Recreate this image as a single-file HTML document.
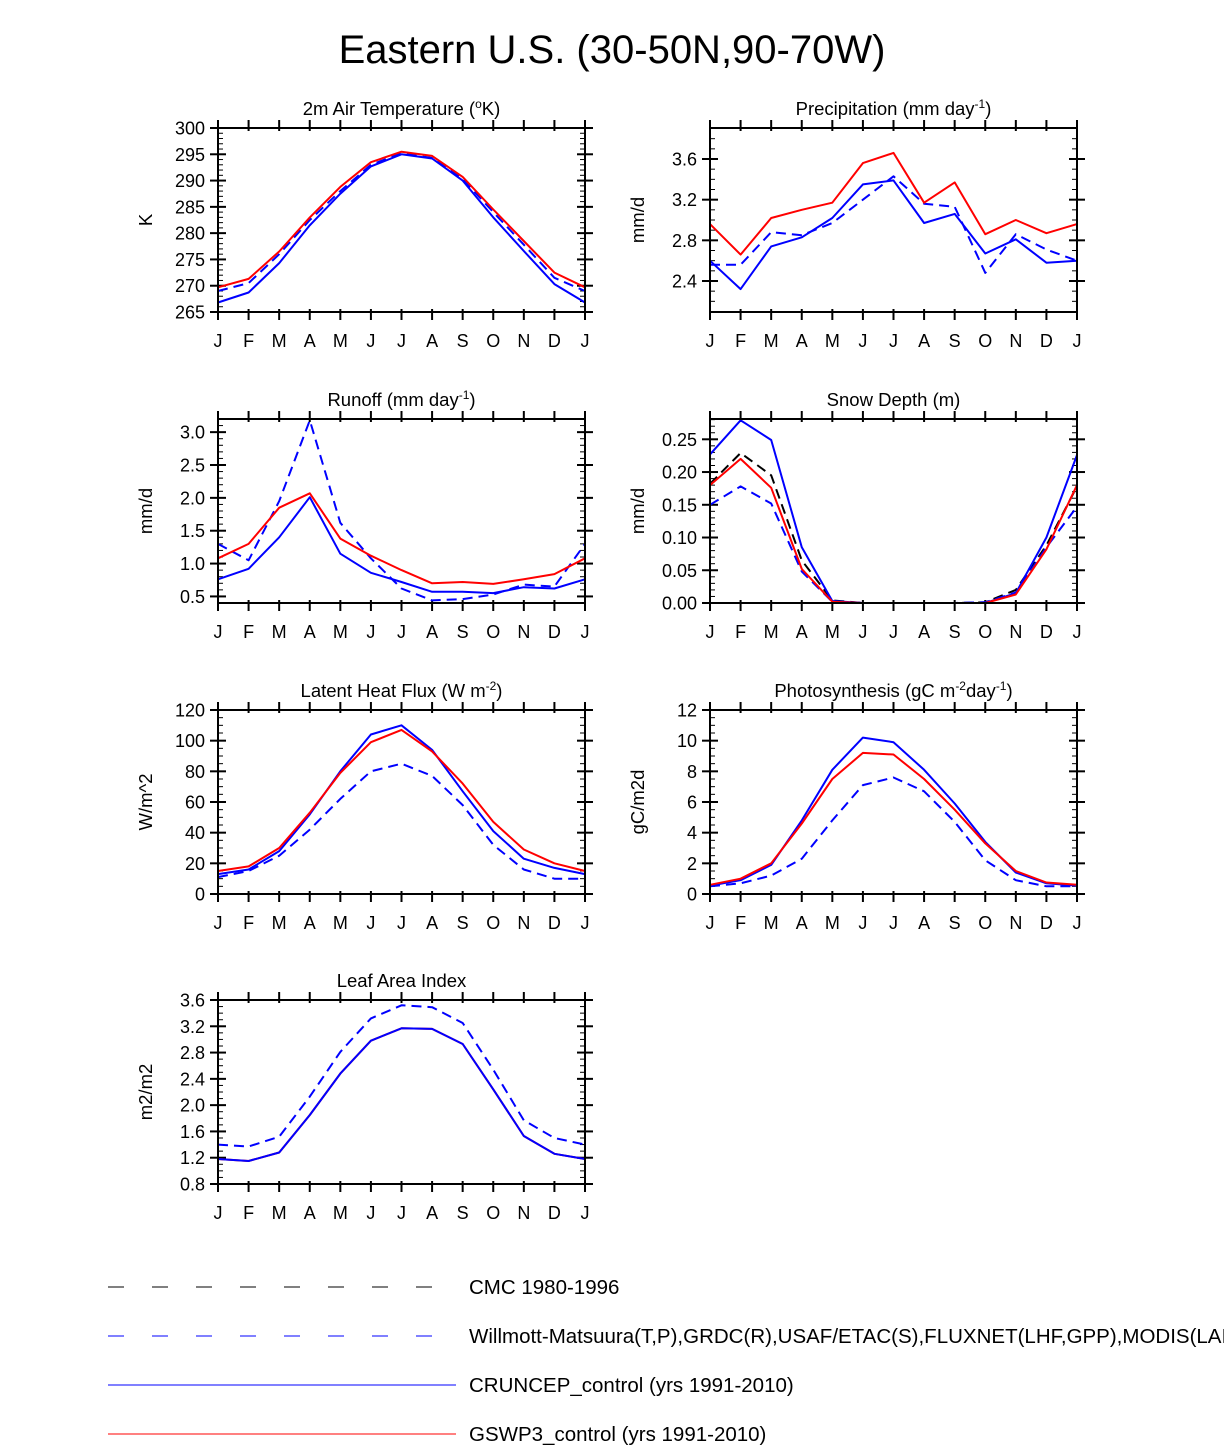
<!DOCTYPE html>
<html><head><meta charset="utf-8"><style>
html,body{margin:0;padding:0;background:#fff;}
svg{display:block;font-family:"Liberation Sans",Arial,sans-serif;}
</style></head><body>
<svg id="fig" width="1224" height="1447" viewBox="0 0 1224 1447">
<text x="612" y="63" font-size="40" text-anchor="middle">Eastern U.S. (30-50N,90-70W)</text>
<g id="panels"></g>
<g>
<line x1="108" y1="1287" x2="438" y2="1287" stroke="#000" stroke-width="1" stroke-dasharray="16,28"/>
<text x="469" y="1294" font-size="20.5">CMC 1980-1996</text>
<line x1="108" y1="1336" x2="438" y2="1336" stroke="#00f" stroke-width="1" stroke-dasharray="16,28"/>
<text x="469" y="1343" font-size="20.5">Willmott-Matsuura(T,P),GRDC(R),USAF/ETAC(S),FLUXNET(LHF,GPP),MODIS(LAI)</text>
<line x1="108" y1="1385" x2="456" y2="1385" stroke="#00f" stroke-width="1"/>
<text x="469" y="1392" font-size="20.5">CRUNCEP_control (yrs 1991-2010)</text>
<line x1="108" y1="1434" x2="456" y2="1434" stroke="#f00" stroke-width="1"/>
<text x="469" y="1441" font-size="20.5">GSWP3_control (yrs 1991-2010)</text>
</g>
</svg>
<script>
const months = ["J","F","M","A","M","J","J","A","S","O","N","D","J"];
// 2m air temperature (K)
const tempRed  = [269.7,271.3,276.5,283,288.8,293.5,295.5,294.7,290.7,284.5,278.5,272.5,269.7];
const tempBlue = [266.8,268.7,274.3,281.5,287.5,292.7,295,294.2,290,283,276.6,270.3,266.8];
const tempObs  = [269,270.5,276,282.5,288,293,295.2,294.3,290.3,284,277.8,271.5,269];
// precipitation
const precRed  = [2.96,2.66,3.02,3.10,3.17,3.56,3.66,3.17,3.37,2.86,3.00,2.87,2.96];
const precBlue = [2.60,2.32,2.74,2.83,3.02,3.35,3.39,2.97,3.06,2.67,2.81,2.58,2.60];
const precObs  = [2.56,2.56,2.88,2.85,2.97,3.20,3.43,3.16,3.13,2.48,2.86,2.71,2.60];
// runoff
const runRed  = [1.08,1.30,1.85,2.07,1.38,1.12,0.90,0.70,0.72,0.69,0.76,0.84,1.08];
const runBlue = [0.76,0.92,1.40,2.01,1.15,0.86,0.72,0.57,0.57,0.55,0.64,0.62,0.76];
const runObs  = [1.30,1.05,1.95,3.18,1.62,1.08,0.62,0.44,0.46,0.53,0.68,0.65,1.30];
// snow depth
const snowRed  = [0.18,0.22,0.176,0.052,0.002,0,0,0,0,0,0.013,0.082,0.18];
const snowBlue = [0.227,0.279,0.249,0.085,0.003,0,0,0,0,0,0.015,0.10,0.226];
const snowObs  = [0.15,0.178,0.152,0.048,0.002,0,0,0,0,0.001,0.016,0.085,0.147];
const snowCmc  = [0.182,0.229,0.195,0.065,0.004,0,0,0,0,0.001,0.02,0.088,0.178];
// latent heat flux
const lhfRed  = [15,18,30,53,79,99,107,93,72,47,29,20,15];
const lhfBlue = [13,16,28,52,80,104,110,94,67,41,23,17,13];
const lhfObs  = [11,15,25,42,62,80,85,77,58,32,16,10,10];
// photosynthesis
const gppRed  = [0.6,1.0,2.0,4.6,7.5,9.2,9.1,7.5,5.5,3.3,1.5,0.75,0.6];
const gppBlue = [0.55,0.9,1.9,4.8,8.1,10.2,9.9,8.1,5.9,3.4,1.4,0.7,0.55];
const gppObs  = [0.5,0.7,1.2,2.3,4.8,7.1,7.6,6.7,4.7,2.2,0.9,0.5,0.5];
// leaf area index
const laiRed  = [1.18,1.15,1.28,1.85,2.48,2.98,3.17,3.16,2.93,2.24,1.53,1.26,1.18];
const laiBlue = [1.18,1.15,1.28,1.85,2.48,2.98,3.17,3.16,2.93,2.24,1.53,1.26,1.18];
const laiObs  = [1.40,1.37,1.52,2.13,2.81,3.32,3.52,3.49,3.25,2.54,1.77,1.50,1.40];

const NS="http://www.w3.org/2000/svg";
const root=document.getElementById('panels');
function el(tag,attrs,parent){const e=document.createElementNS(NS,tag);for(const k in attrs)e.setAttribute(k,attrs[k]);parent.appendChild(e);return e;}

function panel(cfg){
  const {x0,y0,w,h,ymin,ymax,major,minor,dec,title,ylab,series,name}=cfg;
  const g=el('g',{},root);
  
  
  const xs=i=>x0+i*w/12;
  const ys=v=>y0+h-(v-ymin)/(ymax-ymin)*h;
  const t=el('text',{x:x0+w/2,y:y0-13,'font-size':18.5,'text-anchor':'middle'},g);
  t.innerHTML=title;
  
  
  const yl=el('text',{x:0,y:0,'font-size':18.5,'text-anchor':'middle',transform:`translate(${x0-66},${y0+h/2}) rotate(-90)`},g);
  yl.textContent=ylab;
  
  
  const eps=1e-9;
  for(let v=Math.ceil((ymin-eps)/minor)*minor; v<=ymax+eps; v+=minor){
    const y=ys(v);
    el('line',{x1:x0,x2:x0+5,y1:y,y2:y,stroke:'#000','stroke-width':1},g);
    el('line',{x1:x0+w,x2:x0+w-5,y1:y,y2:y,stroke:'#000','stroke-width':1},g);
  }
  for(let v=Math.ceil((ymin-eps)/major)*major; v<=ymax+eps; v+=major){
    const y=ys(v);
    el('line',{x1:x0-8,x2:x0+8,y1:y,y2:y,stroke:'#000','stroke-width':2},g);
    el('line',{x1:x0+w-8,x2:x0+w+8,y1:y,y2:y,stroke:'#000','stroke-width':2},g);
    const tl=el('text',{x:x0-13,y:y+6.5,'font-size':18,'text-anchor':'end'},g);
    tl.textContent=v.toFixed(dec);
    
    
  }
  months.forEach((m,i)=>{
    const x=xs(i);
    el('line',{x1:x,x2:x,y1:y0-8,y2:y0+3,stroke:'#000','stroke-width':2},g);
    el('line',{x1:x,x2:x,y1:y0+h-3,y2:y0+h+8,stroke:'#000','stroke-width':2},g);
    const tl=el('text',{x:x,y:y0+h+35,'font-size':18,'text-anchor':'middle'},g);
    tl.textContent=m;
    
    
  });
  series.forEach(s=>{
    const pts=s.data.map((v,i)=>xs(i).toFixed(1)+','+ys(v).toFixed(1)).join(' ');
    const p=el('polyline',{points:pts,fill:'none',stroke:s.color,'stroke-width':2,'stroke-linejoin':'round'},g);
    if(s.dash)p.setAttribute('stroke-dasharray','10,6');
    
    
  });
  el('rect',{x:x0,y:y0,width:w,height:h,fill:'none',stroke:'#000','stroke-width':2},g);
}
const W=367,H=184;
panel({name:'temperature',x0:218,y0:128,w:W,h:H,ymin:265,ymax:300,major:5,minor:1,dec:0,
  title:'2m Air Temperature (<tspan baseline-shift="super" font-size="12">o</tspan>K)',ylab:'K',
  series:[{id:'obs',data:tempObs,color:'#00f',dash:1},{id:'cruncep',data:tempBlue,color:'#00f'},{id:'gswp3',data:tempRed,color:'#f00'}]});
panel({name:'precipitation',x0:710,y0:128,w:W,h:H,ymin:2.095,ymax:3.905,major:0.4,minor:0.1,dec:1,
  title:'Precipitation (mm day<tspan baseline-shift="super" font-size="12">-1</tspan>)',ylab:'mm/d',
  series:[{id:'obs',data:precObs,color:'#00f',dash:1},{id:'cruncep',data:precBlue,color:'#00f'},{id:'gswp3',data:precRed,color:'#f00'}]});
panel({name:'runoff',x0:218,y0:419,w:W,h:H,ymin:0.4,ymax:3.2,major:0.5,minor:0.1,dec:1,
  title:'Runoff (mm day<tspan baseline-shift="super" font-size="12">-1</tspan>)',ylab:'mm/d',
  series:[{id:'obs',data:runObs,color:'#00f',dash:1},{id:'cruncep',data:runBlue,color:'#00f'},{id:'gswp3',data:runRed,color:'#f00'}]});
panel({name:'snow-depth',x0:710,y0:419,w:W,h:H,ymin:0,ymax:0.281,major:0.05,minor:0.01,dec:2,
  title:'Snow Depth (m)',ylab:'mm/d',
  series:[{id:'cmc',data:snowCmc,color:'#000',dash:1},{id:'obs',data:snowObs,color:'#00f',dash:1},{id:'cruncep',data:snowBlue,color:'#00f'},{id:'gswp3',data:snowRed,color:'#f00'}]});
panel({name:'latent-heat',x0:218,y0:710,w:W,h:H,ymin:0,ymax:120,major:20,minor:5,dec:0,
  title:'Latent Heat Flux (W m<tspan baseline-shift="super" font-size="12">-2</tspan>)',ylab:'W/m^2',
  series:[{id:'obs',data:lhfObs,color:'#00f',dash:1},{id:'cruncep',data:lhfBlue,color:'#00f'},{id:'gswp3',data:lhfRed,color:'#f00'}]});
panel({name:'photosynthesis',x0:710,y0:710,w:W,h:H,ymin:0,ymax:12,major:2,minor:0.5,dec:0,
  title:'Photosynthesis (gC m<tspan baseline-shift="super" font-size="12">-2</tspan>day<tspan baseline-shift="super" font-size="12">-1</tspan>)',ylab:'gC/m2d',
  series:[{id:'obs',data:gppObs,color:'#00f',dash:1},{id:'cruncep',data:gppBlue,color:'#00f'},{id:'gswp3',data:gppRed,color:'#f00'}]});
panel({name:'leaf-area-index',x0:218,y0:1000,w:W,h:H,ymin:0.8,ymax:3.6,major:0.4,minor:0.1,dec:1,
  title:'Leaf Area Index',ylab:'m2/m2',
  series:[{id:'obs',data:laiObs,color:'#00f',dash:1},{id:'gswp3',data:laiRed,color:'#f00'},{id:'cruncep',data:laiBlue,color:'#00f'}]});
</script>
</body></html>
